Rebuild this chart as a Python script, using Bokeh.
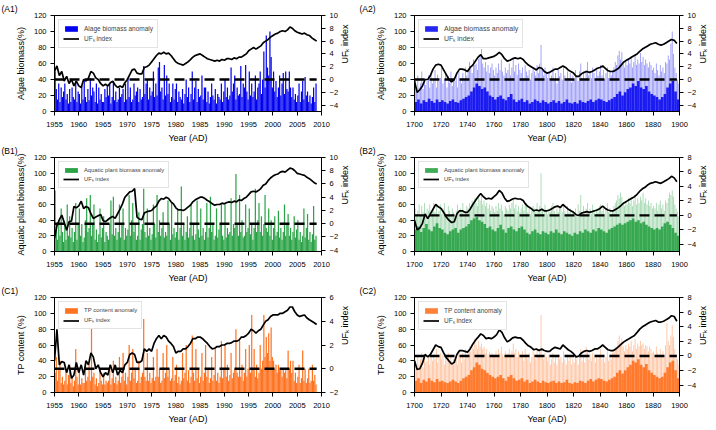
import math
import numpy as np
from bokeh.plotting import figure
from bokeh.models import Range1d, LinearAxis, SingleIntervalTicker, Legend, LegendItem
from bokeh.layouts import column, row
from bokeh.embed import file_html
from bokeh.resources import INLINE

FONT = "Liberation Sans"
BLUE = "#0000f0"
GREEN = "#1f9e3c"
ORANGE = "#ff6a14"

A1_BARS = [
    50, 28, 15, 35,  12, 30, 18, 25,  35, 15, 22, 10,  28, 12, 30, 18,  15, 38, 12, 25,
    22, 10, 32, 15,  38, 18, 12, 28,  14, 42, 20, 30,  25, 12, 35, 10,  30, 15, 22, 12,
    12, 28, 18, 32,  20, 35, 10, 18,  38, 14, 25, 12,  15, 30, 18, 22,  28, 12, 35, 15,
    42, 18, 30, 12,  15, 35, 20, 25,  30, 12, 28, 15,  18, 57, 22, 35,  40, 15, 30, 20,
    25, 50, 18, 35,  20, 55, 62, 25,  30, 15, 58, 20,  45, 22, 35, 12,  18, 35, 15, 28,
    35, 12, 25, 18,  15, 28, 10, 22,  40, 18, 30, 12,  22, 50, 15, 30,  38, 12, 28, 18,
    20, 45, 15, 30,  30, 12, 25, 10,  18, 35, 20, 15,  28, 10, 22, 18,  15, 35, 12, 25,
    40, 18, 30, 15,  20, 55, 25, 35,  45, 15, 30, 20,  22, 57, 18, 35,  30, 58, 25, 15,
    50, 20, 35, 18,  25, 45, 15, 30,  35, 50, 22, 40,  75, 30, 95, 55,  45, 100, 68, 30,
    50, 25, 38, 18,  30, 45, 20, 35,  48, 22, 50, 28,  25, 50, 30, 18,  30, 15, 22, 12,
    20, 35, 12, 25,  38, 15, 43, 20,  25, 12, 20, 10,  18, 30, 12, 35,
]
B1_BARS = [
    78, 30, 15, 40,  20, 55, 25, 12,  35, 15, 60, 20,  45, 18, 30, 12,  25, 62, 15, 35,
    55, 20, 35, 12,  18, 40, 68, 25,  30, 72, 20, 35,  60, 15, 28, 12,  22, 55, 18, 30,
    45, 12, 25, 20,  15, 35, 65, 22,  70, 20, 30, 15,  25, 60, 18, 35,  55, 15, 30, 20,
    28, 72, 20, 40,  62, 25, 35, 15,  20, 50, 15, 28,  35, 80, 25, 18,  55, 20, 30, 15,
    22, 60, 35, 18,  72, 25, 40, 20,  30, 50, 18, 25,  20, 65, 35, 15,  62, 22, 30, 18,
    25, 55, 15, 30,  83, 20, 35, 15,  25, 45, 18, 30,  60, 20, 35, 15,  22, 65, 28, 18,
    55, 20, 30, 15,  25, 62, 18, 30,  70, 25, 35, 15,  20, 55, 18, 28,  35, 62, 20, 15,
    60, 18, 30, 22,  25, 68, 20, 35,  30, 99, 35, 20,  72, 25, 40, 18,  20, 60, 25, 30,
    55, 22, 35, 15,  30, 80, 25, 40,  62, 25, 45, 20,  35, 72, 30, 25,  55, 20, 40, 15,
    30, 45, 20, 25,  52, 18, 30, 15,  25, 60, 20, 35,  48, 20, 30, 15,  25, 45, 18, 28,
    40, 15, 25, 12,  20, 55, 18, 30,  48, 15, 25, 12,  22, 58, 15, 20,
]
C1_BARS = [
    25, 45, 15, 30,  40, 12, 20, 10,  15, 30, 10, 22,  35, 12, 20, 8,   15, 55, 20, 10,
    30, 10, 18, 12,  12, 40, 15, 20,  35, 15, 83, 20,  25, 10, 18, 8,   12, 30, 15, 10,
    25, 10, 15, 12,  15, 35, 10, 18,  40, 12, 20, 10,  15, 45, 12, 20,  50, 15, 25, 10,
    20, 60, 15, 25,  55, 18, 30, 12,  15, 40, 12, 20,  25, 93, 20, 15,  50, 15, 25, 12,
    18, 45, 15, 20,  55, 20, 30, 12,  15, 50, 18, 25,  60, 20, 30, 15,  18, 45, 15, 22,
    35, 12, 20, 10,  15, 50, 18, 25,  60, 15, 28, 12,  20, 72, 25, 15,  55, 18, 30, 12,
    20, 50, 15, 25,  60, 20, 30, 12,  18, 45, 15, 22,  55, 15, 25, 12,  20, 65, 18, 30,
    60, 20, 35, 15,  22, 50, 18, 25,  30, 80, 25, 20,  65, 20, 35, 15,  25, 55, 20, 30,
    60, 25, 98, 30,  55, 20, 35, 18,  25, 60, 30, 40,  98, 45, 70, 50,  75, 40, 82, 45,
    40, 30, 35, 25,  35, 28, 30, 20,  30, 25, 28, 18,  53, 30, 40, 25,  40, 15, 25, 12,
    20, 35, 12, 18,  53, 15, 30, 12,  18, 30, 12, 15,  35, 15, 22, 10,
]

A1_UF = [
    1.25, 2.12, 0.62, 1.25, -0.25, 0.5, -0.62, 0.0, -1.0, -0.25, -1.0, -1.25, 0.0, -0.25,
    0.25, 1.25, 1.0, 0.25, 0.0, -0.62, -1.0, -0.75, -1.0, -0.5, -0.25, -0.88, -1.25, -1.0,
    -1.25, -0.5, 0.0, 0.75, 1.5, 1.62, 1.0, 0.88, 0.88, 1.88, 2.0, 2.25, 2.75, 3.25, 3.75,
    4.12, 4.0, 4.25, 4.0, 4.12, 3.75, 3.25, 2.75, 2.5, 2.38, 2.25, 2.5, 2.75, 3.12, 3.5,
    3.75, 3.88, 4.0, 3.75, 3.5, 3.25, 3.12, 3.0, 2.88, 3.0, 2.88, 3.12, 3.0, 3.25, 3.25,
    3.12, 3.38, 3.25, 3.5, 3.5, 3.75, 4.0, 4.5, 4.75, 5.0, 4.75, 5.0, 5.25, 5.75, 6.0,
    6.25, 6.62, 6.88, 7.12, 7.25, 7.5, 7.62, 7.5, 7.75, 8.2, 8.0, 7.62, 7.38, 7.25, 7.12,
    7.25, 7.0, 6.88, 6.5, 6.25, 6.0,
]
B1_UF = [
    -2.2, -0.3, 0.6, 1.3, 0.2, -1.0, 0.3, 0.4, 2.6, 2.4, 2.7, 3.4, 2.3, 2.6, 2.4, 1.5,
    0.8, 1.0, 1.2, 1.4, 0.5, 0.3, 0.6, 0.9, 1.1, 0.8, 1.5, 2.2, 3.0, 4.0, 4.4, 4.8, 4.9,
    5.3, 1.0, 0.7, 0.6, 1.6, 1.8, 1.9, 2.0, 2.4, 2.7, 3.4, 3.8, 3.7, 4.0, 3.8, 3.3, 3.0,
    2.4, 2.1, 2.1, 2.0, 2.2, 2.5, 2.8, 3.3, 3.6, 3.8, 4.0, 4.0, 3.8, 3.5, 3.3, 3.0, 2.8,
    2.9, 2.9, 3.1, 3.0, 3.2, 3.3, 3.2, 3.4, 3.3, 3.6, 3.5, 3.8, 4.0, 4.4, 4.8, 4.9, 4.8,
    5.0, 5.3, 5.8, 6.0, 6.5, 6.9, 7.2, 7.4, 7.5, 7.8, 7.9, 7.8, 8.1, 8.4, 8.3, 8.0, 7.6,
    7.5, 7.4, 7.3, 7.0, 6.8, 6.5, 6.2, 6.0,
]
C1_UF = [
    0.67, 3.33, 0.33, 0.6, 0.53, -0.33, 0.33, -0.8, -0.53, 0.53, -0.33, 0.33, -0.53, 0.67,
    0.33, 1.33, 1.0, 0.0, 0.33, -0.33, -0.67, -0.33, -0.53, 0.33, -0.33, 0.33, -0.53, -0.13,
    -0.33, 0.33, 0.53, 1.2, 1.33, 1.2, 0.53, 0.53, 0.67, 1.67, 1.47, 1.67, 1.47, 2.13, 2.53,
    2.8, 2.53, 2.8, 2.67, 2.33, 2.13, 1.87, 1.33, 1.47, 1.47, 1.67, 1.67, 1.87, 2.13, 2.53,
    2.53, 2.67, 2.67, 2.53, 2.33, 2.13, 1.87, 1.67, 1.73, 1.87, 1.87, 2.0, 2.0, 2.13, 2.13,
    2.2, 2.33, 2.33, 2.4, 2.67, 2.67, 2.8, 3.0, 3.33, 3.2, 3.0, 3.2, 3.33, 3.67, 4.0, 4.13,
    4.4, 4.53, 4.53, 4.53, 4.67, 4.67, 4.8, 4.93, 5.2, 5.2, 4.8, 4.53, 4.4, 4.47, 4.53,
    4.27, 4.13, 4.0, 3.87, 3.73,
]

A2_PEAK = [
    40, 25, 45, 30, 35, 50, 28, 42, 33, 38,  45, 30, 48, 35, 40, 52, 30, 46, 38, 42,
    55, 35, 40, 48, 30, 44, 36, 50, 32, 40,  38, 45, 30, 50, 42, 35, 48, 40, 55, 45,
    50, 62, 55, 48, 65, 58, 60, 52, 66, 70,  78, 60, 55, 62, 50, 58, 48, 55, 60, 52,
    45, 55, 48, 60, 52, 65, 50, 45, 55, 48,  52, 60, 45, 55, 68, 50, 58, 46, 60, 52,
    48, 55, 42, 58, 50, 45, 52, 40, 48, 55,  50, 45, 58, 48, 60, 83, 52, 45, 55, 48,
    42, 50, 38, 45, 55, 40, 48, 35, 52, 44,  48, 40, 55, 45, 38, 50, 42, 48, 36, 45,
    40, 52, 45, 38, 50, 60, 42, 48, 40, 52,  62, 45, 50, 42, 55, 48, 40, 52, 45, 50,
    58, 45, 52, 40, 48, 55, 42, 50, 45, 52,  55, 62, 58, 70, 76, 65, 74, 60, 55, 62,
    58, 65, 60, 68, 55, 62, 70, 58, 65, 60,  73, 62, 68, 58, 65, 60, 55, 62, 58, 52,
    55, 48, 60, 52, 45, 58, 50, 55, 48, 62,  60, 70, 65, 85, 100, 72, 55, 48, 40, 35,
]
A2_DENSE = [
    12, 15, 10, 14, 12, 16, 13, 11, 15, 12,  14, 12, 10, 13, 15, 12, 11, 14, 16, 18,
    20, 25, 30, 35, 32, 28, 30, 25, 20, 18,  15, 18, 20, 16, 14, 18, 22, 15, 12, 14,
    16, 12, 14, 10, 12, 15, 13, 11, 14, 12,  10, 12, 14, 11, 13, 10, 12, 15, 11, 10,
    12, 10, 14, 12, 11, 13, 15, 12, 14, 16,  15, 13, 12, 14, 16, 18, 22, 25, 20, 24,
    28, 30, 35, 32, 38, 30, 28, 32, 25, 22,  20, 18, 15, 18, 22, 30, 35, 38, 25, 15,
]
B2_PEAK = [
    55, 48, 52, 60, 45, 58, 50, 62, 48, 55,  52, 60, 48, 55, 62, 50, 58, 45, 52, 60,
    48, 55, 62, 50, 45, 58, 52, 48, 55, 50,  45, 52, 60, 48, 55, 50, 62, 45, 52, 58,
    55, 62, 58, 65, 60, 68, 62, 58, 70, 65,  72, 60, 65, 58, 62, 55, 60, 52, 58, 55,
    50, 58, 52, 62, 55, 60, 52, 48, 58, 55,  52, 60, 55, 62, 68, 55, 60, 52, 58, 50,
    55, 60, 52, 58, 62, 50, 55, 48, 52, 58,  55, 50, 62, 52, 58, 100, 55, 48, 60, 52,
    48, 55, 50, 58, 62, 52, 48, 55, 50, 58,  55, 50, 60, 52, 48, 58, 50, 55, 45, 52,
    50, 55, 48, 60, 52, 72, 50, 58, 48, 55,  62, 50, 55, 48, 60, 52, 45, 55, 50, 58,
    60, 52, 58, 48, 55, 62, 50, 55, 48, 52,  58, 62, 65, 72, 68, 75, 70, 62, 58, 65,
    60, 68, 62, 70, 58, 65, 72, 60, 68, 62,  70, 65, 75, 62, 68, 60, 65, 58, 62, 55,
    58, 55, 62, 52, 60, 65, 55, 60, 52, 65,  62, 68, 75, 72, 78, 70, 60, 55, 50, 45,
]
B2_DENSE = [
    28, 32, 25, 30, 35, 28, 26, 32, 36, 30,  28, 24, 22, 26, 28, 30, 24, 28, 30, 32,
    35, 40, 42, 44, 40, 38, 35, 30, 32, 28,  26, 30, 34, 28, 24, 30, 32, 28, 26, 30,
    32, 28, 24, 22, 26, 28, 24, 22, 26, 24,  22, 26, 24, 28, 24, 22, 26, 24, 22, 20,
    24, 22, 26, 24, 28, 26, 24, 28, 26, 30,  28, 26, 24, 28, 30, 32, 34, 36, 34, 36,
    38, 40, 42, 38, 40, 36, 38, 34, 32, 30,  28, 30, 28, 32, 36, 38, 34, 30, 24, 20,
]
C2_PEAK = [
    40, 30, 45, 35, 42, 50, 32, 45, 38, 40,  45, 35, 50, 40, 48, 42, 55, 38, 45, 50,
    42, 48, 35, 45, 40, 50, 38, 45, 35, 42,  40, 48, 35, 52, 45, 38, 50, 42, 55, 48,
    50, 58, 52, 62, 55, 68, 60, 55, 65, 58,  62, 55, 58, 50, 55, 48, 52, 45, 50, 48,
    45, 52, 48, 55, 50, 58, 48, 45, 52, 48,  50, 55, 48, 52, 62, 50, 55, 45, 52, 48,
    45, 52, 40, 55, 48, 42, 50, 38, 45, 52,  48, 42, 55, 45, 52, 98, 48, 42, 50, 45,
    40, 48, 35, 42, 50, 38, 45, 35, 48, 42,  45, 38, 52, 42, 35, 48, 40, 45, 35, 42,
    38, 48, 42, 35, 45, 55, 40, 45, 38, 58,  52, 42, 48, 40, 50, 45, 38, 48, 42, 45,
    55, 42, 48, 38, 45, 52, 40, 48, 42, 50,  52, 58, 55, 65, 72, 62, 68, 58, 52, 60,
    55, 62, 58, 65, 52, 60, 68, 55, 62, 58,  65, 60, 62, 55, 60, 58, 52, 58, 55, 50,
    52, 45, 58, 50, 45, 55, 48, 52, 45, 60,  88, 65, 60, 72, 85, 70, 55, 48, 42, 35,
]
C2_DENSE = [
    15, 18, 12, 16, 14, 18, 15, 13, 17, 14,  15, 13, 12, 14, 16, 14, 12, 15, 18, 20,
    22, 28, 32, 38, 35, 30, 28, 25, 22, 20,  18, 20, 22, 18, 15, 20, 22, 18, 15, 16,
    18, 14, 16, 12, 14, 16, 14, 12, 15, 13,  12, 14, 15, 12, 14, 12, 13, 16, 12, 11,
    13, 12, 15, 14, 12, 15, 17, 14, 16, 18,  17, 15, 14, 16, 18, 20, 25, 28, 24, 28,
    32, 35, 40, 38, 42, 35, 32, 36, 28, 25,  22, 20, 18, 20, 25, 32, 38, 40, 28, 18,
]

A2_UF = [
    -0.25, -2.0, -1.6, -1.0, 0.0, 0.0, 0.62, 1.62, 2.25, 2.38, 2.25, 1.5, 0.75, 0.0, -0.38,
    0.0, 1.0, 1.62, 1.62, 1.5, 1.25, 1.88, 2.25, 2.88, 3.5, 3.88, 3.25, 3.25, 3.38, 3.5,
    3.62, 3.88, 4.25, 3.88, 3.25, 2.88, 3.0, 3.25, 3.38, 3.25, 3.38, 3.12, 2.62, 2.25, 2.0,
    1.75, 1.5, 1.88, 1.75, 1.25, 1.0, 1.12, 1.38, 1.62, 1.62, 1.88, 2.12, 1.88, 1.5, 1.25,
    1.0, 0.5, 0.5, 0.88, 1.12, 1.25, 1.12, 1.25, 1.5, 1.75, 1.88, 2.12, 1.75, 1.38, 1.25,
    1.25, 1.5, 1.75, 2.25, 2.75, 3.0, 3.25, 3.5, 3.75, 4.0, 4.38, 4.75, 5.0, 5.25, 5.5,
    5.62, 5.75, 5.5, 5.38, 5.5, 5.75, 6.0, 6.25, 6.12, 5.62,
]
B2_UF = [
    -0.67, -2.0, -1.75, -1.1, 0.2, -0.45, 0.2, 0.85, 1.5, 1.18, 0.96, 0.42, -0.23, -0.67,
    -0.99, -0.88, 0.2, 0.63, 0.63, 0.42, 0.42, 0.85, 1.5, 2.04, 2.58, 3.02, 2.58, 2.26,
    2.37, 2.26, 2.58, 2.91, 3.45, 3.12, 2.37, 1.93, 2.04, 2.26, 2.37, 2.26, 2.26, 2.04, 1.5,
    1.18, 0.96, 0.63, 0.74, 0.63, 0.85, 0.63, 0.63, 0.74, 0.96, 1.18, 1.28, 1.07, 1.5, 1.18,
    0.85, 0.63, 0.42, 0.09, -0.02, 0.31, 0.42, 0.52, 0.42, 0.52, 0.63, 0.74, 0.96, 1.28,
    0.96, 0.74, 0.63, 0.63, 0.85, 1.07, 1.39, 1.72, 1.93, 2.15, 2.37, 2.58, 2.91, 3.34,
    3.67, 3.88, 4.21, 4.43, 4.53, 4.64, 4.53, 4.43, 4.64, 4.86, 5.08, 5.4, 5.18, 4.64,
]
C2_UF = [
    -0.67, -1.86, -1.75, -0.99, 0.2, -0.12, 0.2, 0.85, 1.5, 1.28, 1.18, 0.42, -0.23, -0.67,
    -1.1, -0.88, 0.2, 0.74, 0.74, 0.63, 0.52, 0.96, 1.61, 2.15, 2.58, 3.02, 2.8, 2.37,
    2.48, 2.37, 2.58, 2.91, 3.56, 3.23, 2.48, 1.93, 2.15, 2.48, 2.58, 2.48, 2.48, 2.15,
    1.72, 1.39, 1.18, 0.85, 0.96, 0.74, 0.96, 0.74, 0.63, 0.63, 0.96, 1.18, 1.07, 0.96,
    1.5, 1.18, 0.85, 0.63, 0.31, -0.12, -0.02, 0.42, 0.63, 0.74, 0.63, 0.74, 0.96, 0.96,
    1.18, 1.5, 1.18, 0.85, 0.74, 0.74, 0.96, 1.28, 1.61, 1.93, 2.15, 2.37, 2.58, 2.8,
    3.23, 3.67, 3.99, 4.21, 4.43, 4.64, 4.75, 4.86, 4.64, 4.64, 4.75, 4.97, 5.18, 5.51,
    5.4, 4.75,
]

UF_LABEL = "UF\u2096 index"


def style_axis(ax, interval, tick_standoff, label_standoff):
    ax.ticker = SingleIntervalTicker(interval=interval)
    ax.axis_line_color = "black"
    ax.axis_line_width = 1
    ax.major_tick_line_color = "black"
    ax.major_tick_out = 4
    ax.major_tick_in = 0
    ax.minor_tick_line_color = None
    ax.major_label_text_font = FONT
    ax.major_label_text_font_size = "7.5px"
    ax.major_label_text_color = "black"
    ax.major_label_standoff = tick_standoff
    ax.axis_label_text_font = FONT
    ax.axis_label_text_font_size = "9px"
    ax.axis_label_text_font_style = "normal"
    ax.axis_label_text_color = "black"
    ax.axis_label_standoff = label_standoff


def make_panel(tag, x_range, x_interval, ylab, uf_range, bar_layers, uf_x, uf_y,
               leg_label, leg_font, leg_row, color, height, b_left, b_top, b_bottom):
    p = figure(width=358, height=height, x_range=Range1d(*x_range), y_range=Range1d(0, 120),
               output_backend="svg", toolbar_location=None,
               min_border_left=b_left, min_border_right=35,
               min_border_top=b_top, min_border_bottom=b_bottom)
    p.title.text = tag
    p.title.align = "left"
    p.title.offset = -b_left + 1
    p.title.standoff = 0
    p.title.vertical_align = "top"
    p.title.text_font = FONT
    p.title.text_font_size = "8.5px"
    p.title.text_font_style = "normal"
    p.title.text_color = "black"
    p.xgrid.visible = False
    p.ygrid.visible = False
    p.outline_line_color = "black"
    p.outline_line_alpha = 1
    p.outline_line_width = 1
    p.background_fill_color = "white"
    p.border_fill_color = "white"
    p.extra_y_ranges = {"uf": Range1d(*uf_range)}

    style_axis(p.xaxis[0], x_interval, 6, 3)
    p.xaxis[0].axis_label = "Year (AD)"
    style_axis(p.yaxis[0], 20, 4, 5)
    p.yaxis[0].axis_label = ylab

    right = LinearAxis(y_range_name="uf", axis_label=UF_LABEL)
    style_axis(right, 2, 4, 4)
    right.axis_label_orientation = math.pi / 2
    p.add_layout(right, "right")

    legend_r = None
    for (bx, btop, bw, alpha, is_main) in bar_layers:
        r = p.vbar(x=bx, top=btop, width=bw, bottom=0, fill_color=color,
                   fill_alpha=alpha, line_color=None)
        if is_main:
            legend_r = r

    p.line(x=[uf_x[0], uf_x[-1]], y=[0, 0], y_range_name="uf", line_color="black",
           line_width=2.4, line_dash="10 5")
    lr = p.line(x=uf_x, y=uf_y, y_range_name="uf", line_color="black", line_width=1.7)

    legend = Legend(items=[LegendItem(label=leg_label, renderers=[legend_r]),
                           LegendItem(label=UF_LABEL, renderers=[lr])],
                    location="top_left")
    legend.label_text_font = FONT
    legend.label_text_font_size = leg_font
    legend.glyph_width = 16
    legend.glyph_height = leg_row - 1
    legend.label_height = leg_row
    legend.label_standoff = 5
    legend.spacing = 2
    legend.padding = 4
    legend.margin = 4
    legend.border_line_color = "#c8c8c8"
    legend.border_line_width = 1
    legend.background_fill_color = "white"
    legend.background_fill_alpha = 1
    p.add_layout(legend)
    return p


def quarter_x(vals):
    return list(1955 + (np.arange(len(vals)) + 0.5) * 0.25)


def half_years(vals):
    return list(1955 + 0.5 * np.arange(len(vals)))


def year_x(vals):
    return list(1700 + np.arange(len(vals)) + 0.5)


def two_year_x(vals):
    return list(1700 + 2 * np.arange(len(vals)) + 1.0)


def two_year_line_x(vals):
    return list(1700 + 2 * np.arange(len(vals)))


# row geometry: (height, top border, bottom border)
ROW1 = (145, 15, 33)
ROW2 = (140, 10, 33)
ROW3 = (144, 10, 37)
LB, RB = 54, 56

a1 = make_panel("(A1)", (1955, 2010), 5, "Algae biomass(%)", (-5, 10),
                [(quarter_x(A1_BARS), A1_BARS, 0.25, 1.0, True)],
                half_years(A1_UF), A1_UF, "Alage biomass anomaly", "6.5px", 8, BLUE,
                ROW1[0], LB, ROW1[1], ROW1[2])
a2 = make_panel("(A2)", (1700, 1900), 20, "Algae biomass(%)", (-5, 10),
                [(year_x(A2_PEAK), A2_PEAK, 0.6, 0.45, False),
                 (two_year_x(A2_DENSE), A2_DENSE, 2.0, 0.85, True)],
                two_year_line_x(A2_UF), A2_UF, "Algae biomass anomaly", "7px", 8, BLUE,
                ROW1[0], RB, ROW1[1], ROW1[2])
b1 = make_panel("(B1)", (1955, 2010), 5, "Aquatic plant biomass(%)", (-4.2, 10),
                [(quarter_x(B1_BARS), B1_BARS, 0.25, 0.95, True)],
                half_years(B1_UF), B1_UF, "Aquatic plant biomass anomaly", "5.8px", 7, GREEN,
                ROW2[0], LB, ROW2[1], ROW2[2])
b2 = make_panel("(B2)", (1700, 1900), 20, "Aquatic plant biomass(%)", (-5, 8),
                [(year_x(B2_PEAK), B2_PEAK, 0.6, 0.45, False),
                 (two_year_x(B2_DENSE), B2_DENSE, 2.0, 0.85, True)],
                two_year_line_x(B2_UF), B2_UF, "Aquatic plant biomass anomaly", "5.8px", 7, GREEN,
                ROW2[0], RB, ROW2[1], ROW2[2])
c1 = make_panel("(C1)", (1955, 2010), 5, "TP content (%)", (-2, 6),
                [(quarter_x(C1_BARS), C1_BARS, 0.25, 0.95, True)],
                half_years(C1_UF), C1_UF, "TP content anomaly", "6px", 8, ORANGE,
                ROW3[0], LB, ROW3[1], ROW3[2])
c2 = make_panel("(C2)", (1700, 1900), 20, "TP content (%)", (-5, 8),
                [(year_x(C2_PEAK), C2_PEAK, 0.6, 0.45, False),
                 (two_year_x(C2_DENSE), C2_DENSE, 2.0, 0.85, True)],
                two_year_line_x(C2_UF), C2_UF, "TP content anomaly", "6.5px", 8, ORANGE,
                ROW3[0], RB, ROW3[1], ROW3[2])

layout = column(row(a1, a2), row(b1, b2), row(c1, c2))
open("out.html", "w").write(file_html(layout, INLINE))
